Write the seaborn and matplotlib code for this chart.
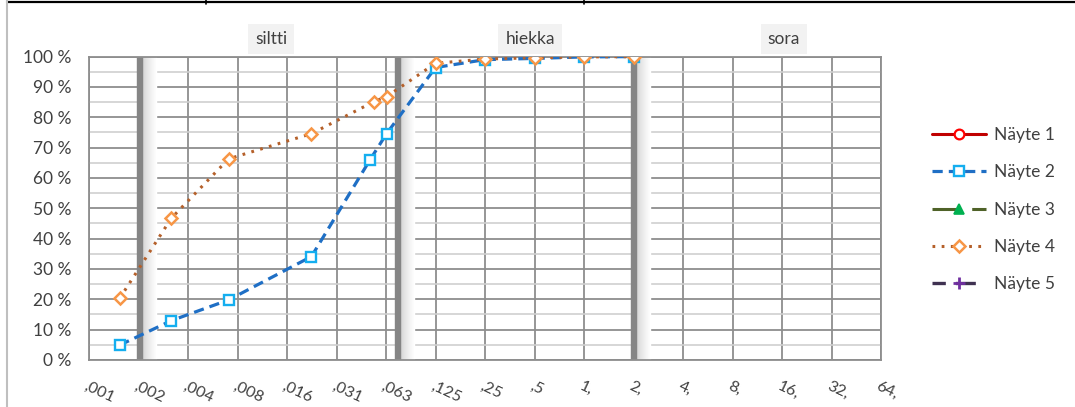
import numpy as np
import pandas as pd
import matplotlib
matplotlib.use("Agg")
import matplotlib.pyplot as plt
import matplotlib.transforms as mtransforms
from matplotlib.lines import Line2D
import seaborn as sns

# Grain size distribution (passing %, sieve + hydrometer)
sample_names = ["Näyte 1", "Näyte 2", "Näyte 3", "Näyte 4", "Näyte 5"]

size_2 = [0.0015, 0.0031, 0.0069, 0.022, 0.050, 0.063, 0.125, 0.25, 0.5, 1.0, 2.0]
pass_2 = [4.9, 13.0, 19.8, 34.1, 66.0, 74.6, 96.4, 99.0, 99.4, 99.9, 100.0]

size_4 = [0.0015, 0.0031, 0.0069, 0.022, 0.053, 0.063, 0.125, 0.25, 0.5, 1.0, 2.0]
pass_4 = [20.3, 46.8, 66.3, 74.6, 85.2, 86.8, 97.8, 99.2, 99.6, 99.9, 100.0]

# Samples 1, 3 and 5 have no results
size_1, pass_1 = [], []
size_3, pass_3 = [], []
size_5, pass_5 = [], []

x_ticks = [2.0 ** k for k in range(-10, 7)]
x_labels = [",001", ",002", ",004", ",008", ",016", ",031", ",063", ",125", ",25", ",5",
            "1,", "2,", "4,", "8,", "16,", "32,", "64,"]
y_ticks = list(range(0, 101, 10))
y_labels = [f"{v} %" for v in y_ticks]

# Soil class boundaries and class names
class_bounds = [0.002, 0.074, 2.0]
class_names = ["siltti", "hiekka", "sora"]
class_label_x = [2.0 ** -6.32, 2.0 ** -1.09, 2.0 ** 4.04]

sns.set_theme(style="white")
plt.rcParams["font.family"] = ["Lato", "DejaVu Sans"]

TEXT = "#404040"
GRID = "#8E8E8E"
GRID_MINOR = "#CFCFCF"

fig = plt.figure(figsize=(10.75, 4.07), dpi=100)
ax = fig.add_axes([89 / 1075, 1 - 360 / 407, (881 - 89) / 1075, (360 - 56.6) / 407])

ax.set_xscale("log", base=2)
ax.set_xlim(2.0 ** -10, 2.0 ** 6)
ax.set_ylim(0, 100)

# grid
ax.set_xticks(x_ticks)
ax.set_xticklabels(x_labels)
ax.xaxis.set_minor_locator(matplotlib.ticker.NullLocator())
ax.set_yticks(y_ticks)
ax.set_yticklabels(y_labels)
ax.set_yticks(range(5, 100, 10), minor=True)
ax.grid(True, which="major", axis="both", color=GRID, lw=1.3, zorder=0)
ax.grid(True, which="minor", axis="y", color=GRID_MINOR, lw=1.2, zorder=0)
ax.set_axisbelow(True)
for s in ax.spines.values():
    s.set_color(GRID)
    s.set_linewidth(1.3)

ax.tick_params(axis="both", which="major", direction="out", length=4.5, width=1.2,
               color=GRID, labelcolor=TEXT)
ax.tick_params(axis="y", which="major", labelsize=12.5, pad=8)
ax.tick_params(axis="y", which="minor", length=0)
ax.tick_params(axis="x", which="major", labelsize=11.5, pad=14)
shift = mtransforms.ScaledTranslation(-4 / 100, 0, fig.dpi_scale_trans)
for lab in ax.get_xticklabels():
    lab.set_rotation(-25)
    lab.set_rotation_mode("anchor")
    lab.set_ha("left")
    lab.set_va("center")
    lab.set_transform(lab.get_transform() + shift)

# class boundary bars with a soft shade on their right side
xt = ax.get_xaxis_transform()
for xb in class_bounds:
    for i in range(14):
        g = 0.84 + 0.16 * (i / 13) ** 0.8
        off = mtransforms.offset_copy(xt, fig=fig, x=3 + i, y=0, units="dots")
        ax.plot([xb, xb], [0, 1], transform=off, color=(g, g, g), lw=1.0,
                solid_capstyle="butt", zorder=1.5)
    ax.plot([xb, xb], [0, 1], transform=xt, color="#858585", lw=4.6,
            solid_capstyle="butt", zorder=2)

for name, xc in zip(class_names, class_label_x):
    ax.text(xc, 1.058, name, transform=xt, ha="center", va="center", fontsize=12.5,
            color=TEXT, bbox=dict(boxstyle="square,pad=0.4", fc="#F2F2F2", ec="none"))

styles = {
    "Näyte 1": dict(color="#C00000", ls="-", lw=2.2, marker="o", ms=7, mfc="white",
                    mec="#FF0000", mew=1.6),
    "Näyte 2": dict(color="#1F6FC5", ls=(0, (3.2, 1.9)), lw=2.3, marker="s", ms=7,
                    mfc="white", mec="#14AEEF", mew=1.7),
    "Näyte 3": dict(color="#4F6228", ls=(0, (8.5, 4.5)), lw=2.2, marker="^", ms=7,
                    mfc="#00B050", mec="#00B050", mew=1.2),
    "Näyte 4": dict(color="#B5602A", ls=(0, (0.9, 2.1)), lw=2.2, marker="D", ms=6,
                    mfc="white", mec="#F79646", mew=1.8),
    "Näyte 5": dict(color="#3F3151", ls=(0, (4, 3, 6, 10)), lw=2.4, marker="+", ms=9,
                    mfc="#7030A0", mec="#7030A0", mew=2),
}

series = {
    "Näyte 1": (size_1, pass_1),
    "Näyte 2": (size_2, pass_2),
    "Näyte 3": (size_3, pass_3),
    "Näyte 4": (size_4, pass_4),
    "Näyte 5": (size_5, pass_5),
}

for name in ["Näyte 2", "Näyte 4"]:
    xs, ys = series[name]
    df = pd.DataFrame({"d": xs, "p": ys})
    st = styles[name]
    sns.lineplot(data=df, x="d", y="p", ax=ax, sort=False, color=st["color"],
                 linestyle=st["ls"], linewidth=st["lw"], marker=st["marker"],
                 markersize=st["ms"], markerfacecolor=st["mfc"],
                 markeredgecolor=st["mec"], markeredgewidth=st["mew"],
                 zorder=4, legend=False)

ax.set_xlabel("")
ax.set_ylabel("")

handles = [Line2D([], [], **styles[n]) for n in sample_names]
fig.legend(handles, sample_names, loc="upper left", frameon=False,
           bbox_to_anchor=(932 / 1075, 1 - 127 / 407), bbox_transform=fig.transFigure,
           fontsize=12.5, handlelength=3.1, handletextpad=0.46, labelspacing=1.23,
           borderpad=0, borderaxespad=0, labelcolor=TEXT)

# sheet border lines around the chart object
fig.add_artist(Line2D([7 / 1075, 1], [1 - 1.5 / 407] * 2, color="black", lw=1.6,
                      transform=fig.transFigure))
fig.add_artist(Line2D([7 / 1075] * 2, [0, 1], color="#BFBFBF", lw=1.5,
                      transform=fig.transFigure))
for xv in [206, 584]:
    fig.add_artist(Line2D([xv / 1075] * 2, [1 - 4 / 407, 1], color="black", lw=1.2,
                          transform=fig.transFigure))

fig.savefig("out.png", dpi=100, facecolor="white")
